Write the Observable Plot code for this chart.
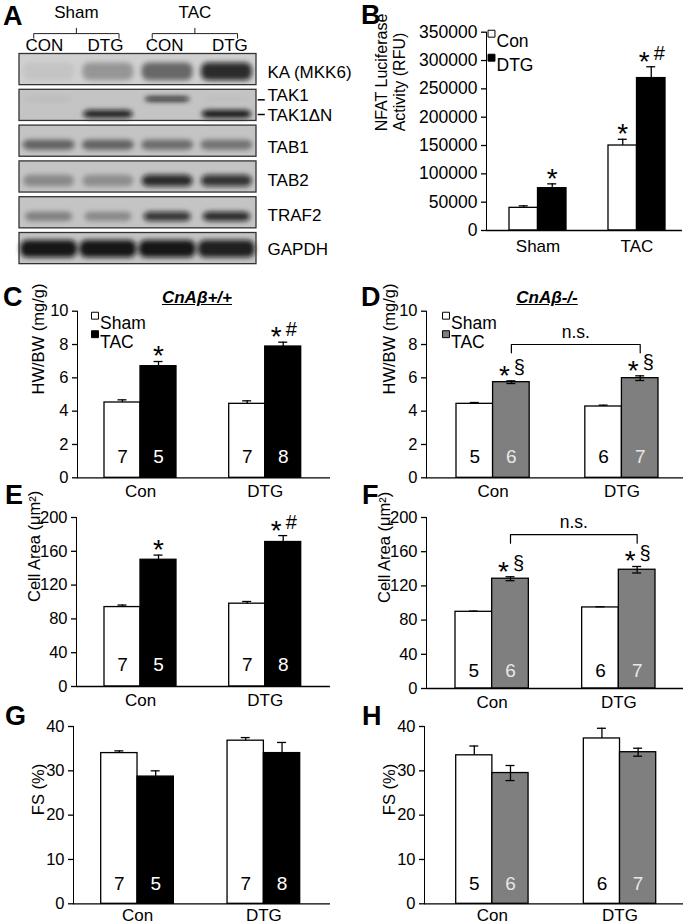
<!DOCTYPE html>
<html><head><meta charset="utf-8">
<script src="https://cdn.jsdelivr.net/npm/d3@7"></script>
<script src="https://cdn.jsdelivr.net/npm/@observablehq/plot@0.6"></script>
<style>
html,body{margin:0;padding:0;background:#fff;}
#fig{position:relative;width:685px;height:924px;overflow:hidden;font-family:'Liberation Sans',Arial,Helvetica,sans-serif;color:#000;}
.letter{position:absolute;font-weight:bold;font-size:27px;line-height:1.1;}
.title{position:absolute;width:140px;text-align:center;font-weight:bold;font-style:italic;text-decoration:underline;font-size:17px;line-height:1.1;}
</style></head>
<body><div id="fig"></div>
<script>
// ---------------- DATA ----------------
// Panel A (western blot): relative band intensities per lane
const blotLanes = ["CON", "DTG", "CON", "DTG"];
const blotGroups = ["Sham", "TAC"];
const blotRows = ["KA (MKK6)", "TAK1", "TAB1", "TAB2", "TRAF2", "GAPDH"];
const blotLabels = ["KA (MKK6)", "TAK1", "TAK1ΔN", "TAB1", "TAB2", "TRAF2", "GAPDH"];
const kaBand = [0.06, 0.28, 0.5, 0.85];
const tak1Band = [0.05, 0.0, 0.9, 0.03];
const tak1dnBand = [0.0, 0.9, 0.0, 0.95];
const tab1Band = [0.5, 0.5, 0.45, 0.42];
const tab2Band = [0.3, 0.28, 0.85, 0.8];
const traf2Band = [0.35, 0.3, 0.8, 0.85];
const gapdhBand = [0.95, 0.95, 0.95, 0.9];

// Panel B
const groupsB = ["Sham", "TAC"];
const seriesB = ["Con", "DTG"];
const nfatMean = [40000, 74700, 150000, 269000];
const nfatErr = [3500, 7600, 11000, 20000];
const nfatSig = ["", "*", "*", "*#"];
const nfatTicks = [0, 50000, 100000, 150000, 200000, 250000, 300000, 350000];

// Panels C–H
const groupsCH = ["Con", "DTG"];
const seriesCH = ["Sham", "TAC"];
const hwbwWT = [4.52, 6.70, 4.44, 7.88];
const hwbwWTErr = [0.16, 0.28, 0.18, 0.26];
const hwbwKO = [4.44, 5.74, 4.28, 5.98];
const hwbwKOErr = [0.08, 0.08, 0.08, 0.14];
const areaWT = [94, 150, 98, 171];
const areaWTErr = [2.4, 5.5, 2.6, 7.6];
const areaKO = [89.7, 128.4, 94.8, 138.9];
const areaKOErr = [0.8, 2.3, 0.8, 3.8];
const fsWT = [34.0, 28.7, 36.8, 34.0];
const fsWTErr = [0.5, 1.3, 0.7, 2.4];
const fsKO = [33.5, 29.5, 37.3, 34.2];
const fsKOErr = [2.1, 1.7, 2.3, 0.9];
const nWT = [7, 5, 7, 8];
const nKO = [5, 6, 6, 7];
const sigWT = ["", "*", "", "*#"];
const sigKO = ["", "*§", "", "*§"];
const hwTicks = [0, 2, 4, 6, 8, 10];
const areaTicks = [0, 40, 80, 120, 160, 200];
const fsTicks = [0, 10, 20, 30, 40];

// ---------------- LAYOUT ----------------
const FONT = "'Liberation Sans', Arial, Helvetica, sans-serif";
const fig = document.getElementById("fig");
const baseStyle = {fontFamily: FONT, background: "transparent", overflow: "visible", color: "#000"};

function place(el, left, top) {
  el.style.position = "absolute";
  el.style.left = left + "px";
  el.style.top = top + "px";
  fig.appendChild(el);
  return el;
}
function addDiv(text, cls, left, top) {
  const d = document.createElement("div");
  d.className = cls;
  d.textContent = text;
  return place(d, left, top);
}

// ---------------- PANEL A ----------------
(function () {
  const bandLayout = [
    {row: 0, values: kaBand, c: 0.50, h: 0.50, w: 0.86},
    {row: 1, values: tak1Band, c: 0.27, h: 0.13, w: 0.76},
    {row: 1, values: tak1dnBand, c: 0.69, h: 0.22, w: 0.84},
    {row: 2, values: tab1Band, c: 0.55, h: 0.28, w: 0.88},
    {row: 3, values: tab2Band, c: 0.55, h: 0.32, w: 0.86},
    {row: 4, values: traf2Band, c: 0.55, h: 0.26, w: 0.8},
    {row: 5, values: gapdhBand, c: 0.45, h: 0.48, w: 0.96}
  ];
  const bandData = bandLayout.flatMap(L => L.values.map((v, lane) => ({row: L.row, lane, v, c: L.c, h: L.h, w: L.w})));
  const labelRow = [0, 1, 1, 2, 3, 4, 5];
  const labelPos = [0.52, 0.16, 0.72, 0.62, 0.53, 0.5, 0.45];
  const lanePos = [0.42, 0.45, 0.45, 0.55];
  const hdr = {group: -1.16, bracket: -0.57, end: -0.44, tick: -0.73, lane: -0.24};
  const brackets = blotGroups.flatMap((g, k) => {
    const xa = 2 * k + 0.24, xb = 2 * k + 1.68;
    return [{g, x: xa, y: hdr.end}, {g, x: xa, y: hdr.bracket}, {g, x: xb, y: hdr.bracket}, {g, x: xb, y: hdr.end}];
  });
  const dashes = [{y: 1.28}, {y: 1.69}];
  const nL = blotLanes.length;
  const svg = Plot.plot({
    width: 360, height: 280, margin: 0,
    style: {...baseStyle, fontSize: "16.5px"},
    x: {domain: [0, nL], range: [19, 256], axis: null},
    y: {domain: [-1.4944, 6.3268], range: [0, 280], axis: null},
    marks: [
      Plot.rect(blotRows, {x1: () => 0, x2: () => nL, y1: (d, i) => i, y2: (d, i) => i + 0.87, fill: (d, i) => i === 0 ? "#d0d0d0" : "#c4c4c4"}),
      Plot.rect(bandData, {
        x1: d => d.lane + (1 - d.w) / 2, x2: d => d.lane + (1 + d.w) / 2,
        y1: d => d.row + d.c - d.h / 2, y2: d => d.row + d.c + d.h / 2,
        fill: "#0b0b0b", fillOpacity: d => d.v, rx: 7
      }),
      Plot.rect(blotRows, {x1: () => 0, x2: () => nL, y1: (d, i) => i, y2: (d, i) => i + 0.87, fill: "none", stroke: "#333", strokeWidth: 1.3}),
      Plot.text(blotGroups, {x: (d, i) => 2 * i + 0.96, y: () => hdr.group, text: d => d, fontSize: 17}),
      Plot.line(brackets, {x: "x", y: "y", z: "g", stroke: "#222", strokeWidth: 1}),
      Plot.link(blotGroups, {x1: (d, i) => 2 * i + 0.96, x2: (d, i) => 2 * i + 0.96, y1: () => hdr.bracket, y2: () => hdr.tick, stroke: "#222", strokeWidth: 1}),
      Plot.text(blotLanes, {x: (d, i) => i + lanePos[i], y: () => hdr.lane, text: d => d, fontSize: 17}),
      Plot.text(blotLabels, {x: () => nL, dx: 11, y: (d, i) => labelRow[i] + labelPos[i], text: d => d, textAnchor: "start", fontSize: 17}),
      Plot.link(dashes, {x1: () => nL + 0.02, x2: () => nL + 0.14, y1: "y", y2: "y", stroke: "#000", strokeWidth: 1.5})
    ]
  });
  const s = d3.select(svg);
  s.insert("defs", ":first-child").append("filter").attr("id", "bandBlur")
    .attr("x", "-30%").attr("y", "-80%").attr("width", "160%").attr("height", "260%")
    .append("feGaussianBlur").attr("stdDeviation", 2.4);
  s.selectAll('g[aria-label="rect"]').filter((d, i) => i === 1).attr("filter", "url(#bandBlur)");
  place(svg, 0, 0);
})();

// ---------------- BAR PANEL HELPER ----------------
function barPanel(cfg) {
  const {groups, series, means, errs} = cfg;
  const nS = series.length;
  const [r0, r1] = cfg.xRange;
  const step = (r1 - r0) / (groups.length - cfg.pad);
  const b = step * (1 - cfg.pad);
  const q = b / 4, cw = 9, sw = 1.3;
  const data = groups.flatMap((g, gi) => series.map((s, si) => {
    const k = gi * nS + si;
    return {g, s, si, v: means[k], e: errs[k], n: cfg.counts ? cfg.counts[k] : null, sig: cfg.sigs ? cfg.sigs[k] : ""};
  }));
  const marks = [];
  series.forEach((s, si) => {
    const ds = data.filter(d => d.si === si);
    marks.push(Plot.barY(ds, {x: "g", y: "v", fill: cfg.fills[si], stroke: "#000", strokeWidth: sw,
      insetLeft: si ? b / 2 : 0, insetRight: si ? 0 : b / 2}));
  });
  series.forEach((s, si) => {
    const ds = data.filter(d => d.si === si);
    const dx = si ? q : -q;
    const center = si ? 3 * q : q;
    const capIns = {insetLeft: center - cw / 2, insetRight: b - center - cw / 2};
    const both = cfg.both && cfg.both[si];
    marks.push(Plot.ruleX(ds, {x: "g", y1: d => both ? d.v - d.e : d.v, y2: d => d.v + d.e, dx, stroke: "#000", strokeWidth: sw}));
    marks.push(Plot.tickY(ds, {x: "g", y: d => d.v + d.e, ...capIns, stroke: "#000", strokeWidth: sw}));
    if (both) marks.push(Plot.tickY(ds, {x: "g", y: d => d.v - d.e, ...capIns, stroke: "#000", strokeWidth: sw}));
    if (cfg.counts) marks.push(Plot.text(ds, {x: "g", frameAnchor: "bottom", dx, dy: -cfg.countDy, text: d => String(d.n), fill: cfg.countFills[si], fontSize: 19}));
    const one = ds.filter(d => d.sig.length === 1), two = ds.filter(d => d.sig.length === 2);
    if (one.length) marks.push(Plot.text(one, {x: "g", y: d => d.v + d.e, dx, dy: -5, text: d => d.sig[0], fontSize: 28}));
    if (two.length) {
      marks.push(Plot.text(two, {x: "g", y: d => d.v + d.e, dx: dx - 7, dy: -5, text: d => d.sig[0], fontSize: 28}));
      marks.push(Plot.text(two, {x: "g", y: d => d.v + d.e, dx: dx + 8, dy: -13, text: d => d.sig[1], fontSize: 20}));
    }
  });
  marks.push(Plot.ruleY([cfg.yDomain[0]], {stroke: "#000", strokeWidth: 1.3}));
  marks.push(Plot.text([cfg.yLabel], {frameAnchor: "left", dx: cfg.labelDx, rotate: -90, text: d => d, fontSize: cfg.labelFont || 16.5, lineHeight: 1.1}));
  if (cfg.ns) {
    const ns = cfg.ns;
    const pts = [{g: groups[0], y: ns.lo}, {g: groups[0], y: ns.hi}, {g: groups[1], y: ns.hi}, {g: groups[1], y: ns.lo}];
    marks.push(Plot.line(pts, {x: "g", y: "y", dx: q, stroke: "#000", strokeWidth: 1.2}));
    marks.push(Plot.text([ns.text], {x: () => groups[1], y: () => ns.hi, dx: q - step / 2, dy: -12, text: d => d, fontSize: 17.5}));
  }
  if (cfg.legend) {
    const L = cfg.legend;
    series.forEach((s, si) => {
      marks.push(Plot.dot([s], {frameAnchor: "top-left", dx: L.dx, dy: L.dy + si * L.gap, symbol: "square", r: 3.9, fill: cfg.fills[si], stroke: "#000", strokeWidth: 1}));
      marks.push(Plot.text([s], {frameAnchor: "top-left", dx: L.dx + 5, dy: L.dy + si * L.gap + 1, text: d => d, textAnchor: "start", fontSize: L.font}));
    });
  }
  const tf = cfg.tickFont || 16.5;
  const svg = Plot.plot({
    width: cfg.width, height: cfg.height,
    marginLeft: cfg.mL, marginRight: cfg.mR, marginTop: cfg.mT, marginBottom: cfg.mB,
    style: {...baseStyle, fontSize: tf + "px"},
    x: {type: "band", domain: groups, range: [r0, r1], paddingInner: cfg.pad, paddingOuter: 0, align: 0.5, round: false, tickSize: 0, tickPadding: cfg.xPad || 7, label: null},
    y: {domain: cfg.yDomain, ticks: cfg.yTicks, tickSize: 5, tickPadding: 4, line: true, label: null, tickFormat: d3.format("d")},
    marks
  });
  const s = d3.select(svg);
  s.selectAll('g[aria-label^="y-axis"] text').style("font-size", tf + "px");
  s.selectAll('g[aria-label^="x-axis"] text').style("font-size", (cfg.xFont || 17) + "px");
  s.selectAll('g[aria-label^="y-axis"], g[aria-label^="x-axis"]').attr("stroke-width", 1.3);
  return place(svg, cfg.left, cfg.top);
}

const WHITE = "#ffffff", BLACK = "#000000", GREY = "#7f7f7f";

// ---------------- PANEL B ----------------
barPanel({
  left: 340, top: 0, width: 345, height: 265, mL: 146, mR: 3, mT: 31.7, mB: 35,
  groups: groupsB, series: seriesB, means: nfatMean, errs: nfatErr, sigs: nfatSig,
  fills: [WHITE, BLACK], yDomain: [0, 350000], yTicks: nfatTicks, tickFont: 17.5, xPad: 9,
  xRange: [509 - 340, 665 - 340], pad: 0.4242,
  yLabel: "NFAT Luciferase\nActivity (RFU)", labelDx: -96, labelFont: 16,
  legend: {dx: 5, dy: 1.5, gap: 24, font: 17.5}
});

// ---------------- PANEL C ----------------
barPanel({
  left: 0, top: 280, width: 340, height: 220, mL: 77, mR: 10, mT: 30.7, mB: 22.7,
  groups: groupsCH, series: seriesCH, means: hwbwWT, errs: hwbwWTErr, sigs: sigWT,
  counts: nWT, countFills: [BLACK, WHITE], countDy: 15,
  fills: [WHITE, BLACK], yDomain: [0, 10], yTicks: hwTicks,
  xRange: [104, 300.7], pad: 0.4226,
  yLabel: "HW/BW (mg/g)", labelDx: -39,
  legend: {dx: 17.5, dy: 4.5, gap: 18.5, font: 17.5}
});

// ---------------- PANEL D ----------------
barPanel({
  left: 340, top: 280, width: 345, height: 220, mL: 86, mR: 2, mT: 30.7, mB: 22.7,
  groups: groupsCH, series: seriesCH, means: hwbwKO, errs: hwbwKOErr, sigs: sigKO,
  counts: nKO, countFills: [BLACK, "#e8e8e8"], countDy: 15, both: [false, true],
  fills: [WHITE, GREY], yDomain: [0, 10], yTicks: hwTicks,
  xRange: [456 - 340, 658 - 340], pad: 0.432,
  yLabel: "HW/BW (mg/g)", labelDx: -37,
  legend: {dx: 19.5, dy: 4.5, gap: 18.5, font: 17.5},
  ns: {lo: 7.5, hi: 8.0, text: "n.s."}
});

// ---------------- PANEL E ----------------
barPanel({
  left: 0, top: 500, width: 340, height: 210, mL: 76, mR: 10, mT: 17, mB: 24,
  groups: groupsCH, series: seriesCH, means: areaWT, errs: areaWTErr, sigs: sigWT,
  counts: nWT, countFills: [BLACK, WHITE], countDy: 16,
  fills: [WHITE, BLACK], yDomain: [0, 200], yTicks: areaTicks,
  xRange: [104, 300.7], pad: 0.4226,
  yLabel: "Cell Area (μm²)", labelDx: -42
});

// ---------------- PANEL F ----------------
barPanel({
  left: 340, top: 500, width: 345, height: 210, mL: 86, mR: 2, mT: 17, mB: 22,
  groups: groupsCH, series: seriesCH, means: areaKO, errs: areaKOErr, sigs: sigKO,
  counts: nKO, countFills: [BLACK, "#e8e8e8"], countDy: 12, both: [false, true],
  fills: [WHITE, GREY], yDomain: [0, 200], yTicks: areaTicks,
  xRange: [455 - 340, 655 - 340], pad: 0.421,
  yLabel: "Cell Area (μm²)", labelDx: -42,
  ns: {lo: 170, hi: 180, text: "n.s."}
});

// ---------------- PANEL G ----------------
barPanel({
  left: 0, top: 710, width: 340, height: 214, mL: 73, mR: 10, mT: 16, mB: 20.7,
  groups: groupsCH, series: seriesCH, means: fsWT, errs: fsWTErr,
  counts: nWT, countFills: [BLACK, WHITE], countDy: 14,
  fills: [WHITE, BLACK], yDomain: [0, 40], yTicks: fsTicks,
  xRange: [100.7, 299.7], pad: 0.425, xPad: 5,
  yLabel: "FS (%)", labelDx: -35
});

// ---------------- PANEL H ----------------
barPanel({
  left: 340, top: 710, width: 345, height: 214, mL: 84, mR: 2, mT: 16, mB: 20.7,
  groups: groupsCH, series: seriesCH, means: fsKO, errs: fsKOErr,
  counts: nKO, countFills: [BLACK, "#e8e8e8"], countDy: 14, both: [false, true],
  fills: [WHITE, GREY], yDomain: [0, 40], yTicks: fsTicks,
  xRange: [455.7 - 340, 655.7 - 340], pad: 0.433, xPad: 5,
  yLabel: "FS (%)", labelDx: -35
});

// ---------------- LETTERS & TITLES ----------------
addDiv("A", "letter", 3, 2);
addDiv("B", "letter", 361, 1);
addDiv("C", "letter", 3, 283);
addDiv("D", "letter", 361, 283);
addDiv("E", "letter", 5, 481);
addDiv("F", "letter", 362, 481);
addDiv("G", "letter", 5, 702);
addDiv("H", "letter", 362, 702);
addDiv("CnAβ+/+", "title", 197 - 70, 289);
addDiv("CnAβ-/-", "title", 547 - 70, 289);
</script>
</body></html>
